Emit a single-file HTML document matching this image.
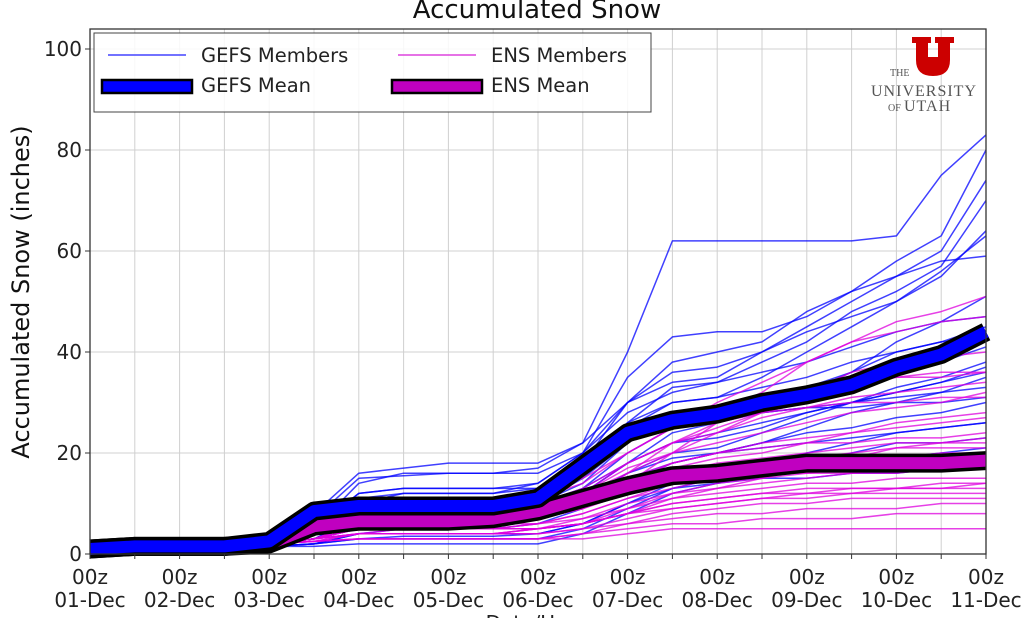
<!DOCTYPE html>
<html><head><meta charset="utf-8"><style>
html,body{margin:0;padding:0;background:#fff;}
svg{display:block;font-family:"DejaVu Sans","Liberation Sans",sans-serif;}
</style></head><body>
<svg id="chart" width="1024" height="618" viewBox="0 0 1024 618">
<text x="537" y="18" font-size="26" text-anchor="middle" fill="#111">Accumulated Snow</text>
<text transform="translate(29,292) rotate(-90)" font-size="24" text-anchor="middle" fill="#111">Accumulated Snow (inches)</text>
<g id="grid"></g>
<g id="series"></g>
<rect x="90" y="29" width="896" height="525" fill="none" stroke="#333" stroke-width="1.3"/>
<g id="axes"></g>
<g>
<rect x="94" y="33" width="557" height="79" fill="#fff" fill-opacity="0.85" stroke="#444" stroke-width="1"/>
<g><line x1="108" y1="55" x2="186" y2="55" stroke="#4444ff" stroke-width="1.5"/><text x="201" y="62" font-size="19.5" fill="#222">GEFS Members</text></g>
<g><line x1="398" y1="55" x2="476" y2="55" stroke="#dd44dd" stroke-width="1.5"/><text x="491" y="62" font-size="19.5" fill="#222">ENS Members</text></g>
<g><rect x="102" y="80" width="90" height="13" fill="#0000ff" stroke="#000" stroke-width="2.5"/><text x="201" y="92" font-size="19.5" fill="#222">GEFS Mean</text></g>
<g><rect x="392" y="80" width="90" height="13" fill="#c000c0" stroke="#000" stroke-width="2.5"/><text x="491" y="92" font-size="19.5" fill="#222">ENS Mean</text></g>
</g>
<g>
<path d="M912,37 h19 v6 h-3 v14 h10 v-14 h-3 v-6 h19 v6 h-4 v17 q0,16 -17,16 q-17,0 -17,-16 v-17 h-4 z" fill="#cc0000"/>
<text x="890" y="76" font-family="Liberation Serif,serif" font-size="10" fill="#555">THE</text>
<text x="924" y="96" font-family="Liberation Serif,serif" font-size="16" fill="#555" text-anchor="middle" letter-spacing="1">UNIVERSITY</text>
<text x="888" y="111" font-family="Liberation Serif,serif" font-size="10" fill="#555">OF</text>
<text x="904" y="111" font-family="Liberation Serif,serif" font-size="16" fill="#555" letter-spacing="1">UTAH</text>
</g>
</svg>
<script>
const dayLabels = ["01-Dec","02-Dec","03-Dec","04-Dec","05-Dec","06-Dec","07-Dec","08-Dec","09-Dec","10-Dec","11-Dec"];
const yTicks = [0,20,40,60,80,100];
// values at half-day steps (00z, 12z ...) from 00z 01-Dec to 00z 11-Dec
const gefsMean = [1,1.5,1.5,1.5,2.5,8.5,9.5,9.5,9.5,9.5,11,17.5,24,26.5,27.7,30,31.5,33.5,37,39.5,44];
const ensMean = [1,1.5,1.5,1.5,2,5.5,6.5,6.5,6.5,7,8.5,11,13.5,15.5,16,17,18,18,18,18,18.5];
const gefsMembers = [
[1,1.5,1.5,1.5,2,8,16,17,18,18,18,22,40,62,62,62,62,62,63,75,83],
[1,1.5,1.5,1.5,2,7,15,15.5,16,16,16,20,35,43,44,44,47,52,58,63,80],
[1,1.5,1.5,1.5,2,5,12,13,13,13,13,18,30,38,40,42,48,52,55,60,74],
[1,1.5,1.5,1.5,2,6,10,12,12,12,14,20,28,32,34,38,42,48,52,57,70],
[1,1.5,1.5,1.5,2,4,9,10,10,10,11,16,25,30,31,35,40,45,50,56,63],
[1,1.5,1.5,1.5,2,5,14,16,16,16,17,22,30,34,35,40,45,50,55,58,59],
[1,1.5,1.5,1.5,2,4,8,9,9,9,10,14,22,28,29,30,32,36,42,46,51],
[1,1.5,1.5,1.5,2,3,7,8,8,8,9,13,20,25,27,30,33,36,40,42,45],
[1,1.5,1.5,1.5,2,4,9,10,10,11,12,18,26,30,31,33,35,38,40,42,43],
[1,1.5,1.5,1.5,2,5,11,12,12,12,13,16,22,27,28,30,32,34,36,38,41],
[1,1.5,1.5,1.5,2,3,6,7,7,7,8,12,18,22,23,25,28,30,33,35,38],
[1,1.5,1.5,1.5,2,3,7,8,8,8,8,11,16,20,21,24,27,30,32,34,37],
[1,1.5,1.5,1.5,2,4,8,9,9,9,10,13,18,22,24,26,28,30,32,34,36],
[1,1.5,1.5,1.5,2,3,5,6,6,6,7,10,15,18,20,22,25,28,30,32,35],
[1,1.5,1.5,1.5,1.5,2,4,5,5,5,6,9,14,18,20,22,24,25,27,28,30],
[1,1.5,1.5,1.5,2,3,6,7,7,7,8,12,18,24,26,28,29,30,31,32,33],
[1,1.5,1.5,1.5,2,4,8,9,9,9,10,15,22,27,28,28,29,29,30,30,31],
[1,1.5,1.5,1.5,1.5,2,3,3.5,3.5,3.5,4,6,10,14,16,18,20,22,24,25,26],
[1,1.5,1.5,1.5,1.5,1.5,2,2,2,2,2,4,8,12,14,16,18,20,22,22,23],
[1,1.5,1.5,1.5,1.5,2,3,3,3,3,3,5,9,13,15,16,17,18,19,20,21],
[1,1.5,1.5,1.5,2,4,10,11,11,11,12,17,26,33,34,36,38,41,44,46,47],
[1,1.5,1.5,1.5,2,5,12,13,13,13,14,20,30,36,37,40,44,47,50,55,64],
[1,1.5,1.5,1.5,1.5,2,4,4,4,4,4,6,10,13,14,15,15,16,16,17,17],
[1,1.5,1.5,1.5,2,3,6,7,7,7,8,11,16,19,20,21,22,23,24,25,26]
];
const ensMembers = [
[1,1.5,1.5,1.5,2.5,6,10,11,11,11,12,15,20,25,30,34,38,42,44,46,47],
[1,1.5,1.5,1.5,2.5,5,9,10,10,10,11,14,20,25,28,32,38,42,46,48,51],
[1,1.5,1.5,1.5,2,4,8,8,8,8,9,12,18,22,25,28,30,33,35,36,36],
[1,1.5,1.5,1.5,2,4,7,8,8,8,9,12,17,20,22,24,26,28,29,30,32],
[1,1.5,1.5,1.5,2,4,7,7,7,7,8,10,14,18,20,22,23,24,25,26,27],
[1,1.5,1.5,1.5,2,3,6,6,6,6,7,9,13,16,18,19,20,21,22,22,23],
[1,1.5,1.5,1.5,2,3,6,6,6,6,7,9,12,15,16,17,18,19,19,20,20],
[1,1.5,1.5,1.5,2,3,5,6,6,6,6,8,11,13,15,16,17,18,18,18,19],
[1,1.5,1.5,1.5,2,3,5,5,5,5,6,7,10,12,13,14,15,16,16,17,17],
[1,1.5,1.5,1.5,2,3,5,5,5,5,5,7,9,11,12,13,14,14,15,15,15],
[1,1.5,1.5,1.5,2,3,4,4,4,4,5,6,8,10,11,12,12,13,13,13,14],
[1,1.5,1.5,1.5,2,3,4,4,4,4,4,5,7,9,10,11,11,12,12,12,12],
[1,1.5,1.5,1.5,2,2.5,4,4,4,4,4,5,6,8,9,10,10,11,11,11,11],
[1,1.5,1.5,1.5,2,2.5,3,3,3,3,3,4,6,7,8,8,9,9,9,10,10],
[1,1.5,1.5,1.5,2,2.5,3,3,3,3,3,4,5,6,6,7,7,7,8,8,8],
[1,1.5,1.5,1.5,2,2.5,3,3,3,3,3,3,4,5,5,5,5,5,5,5,5],
[1,1.5,1.5,1.5,2.5,5,9,9,9,9,10,13,18,22,24,27,29,31,32,33,34],
[1,1.5,1.5,1.5,2,4,8,9,9,9,10,12,16,20,24,28,32,36,38,39,40],
[1,1.5,1.5,1.5,2,4,7,7,7,7,8,11,15,18,20,21,22,22,23,23,24],
[1,1.5,1.5,1.5,2,3,6,7,7,7,7,9,12,15,17,18,19,20,21,21,21],
[1,1.5,1.5,1.5,2,3,5,5,5,5,6,8,11,14,15,16,16,16,17,17,17],
[1,1.5,1.5,1.5,2,3,5,5,5,5,5,6,8,10,11,12,13,13,13,14,14],
[1,1.5,1.5,1.5,2,3,4,5,5,5,5,6,8,9,10,11,12,12,13,13,13],
[1,1.5,1.5,1.5,2,3,6,6,6,6,7,9,14,20,26,30,32,34,35,35,36],
[1,1.5,1.5,1.5,2,3,5,6,6,6,7,9,13,17,19,20,22,24,26,27,28],
[1,1.5,1.5,1.5,2,3,4,4,4,4,5,6,9,12,14,15,16,17,18,19,19],
[1,1.5,1.5,1.5,2,3,6,6,6,6,7,10,16,22,26,28,29,30,30,31,31],
[1,1.5,1.5,1.5,2,2.5,4,4,4,4,5,6,8,11,13,15,17,19,21,22,22]
];

const NS="http://www.w3.org/2000/svg";
const X0=90,X1=986,Y0=554,YTOP=49;
function xs(d){return X0+(X1-X0)*d/10;}
function ys(v){return Y0-(Y0-YTOP)*v/100;}
function mk(tag,attrs,parent){const e=document.createElementNS(NS,tag);for(const k in attrs)e.setAttribute(k,attrs[k]);parent.appendChild(e);return e;}
const grid=document.getElementById('grid'),axes=document.getElementById('axes'),series=document.getElementById('series');
for(let h=1;h<20;h++){
  const l=mk('line',{x1:xs(h/2),x2:xs(h/2),y1:29,y2:Y0,stroke:'#d0d0d0','stroke-width':1},grid);
  
  
}
yTicks.forEach(v=>{
  if(v>0){const l=mk('line',{x1:X0,x2:X1,y1:ys(v),y2:ys(v),stroke:'#d0d0d0','stroke-width':1},grid);
  
  }
  const t=mk('line',{x1:X0-5,x2:X0,y1:ys(v),y2:ys(v),stroke:'#333','stroke-width':1},axes);
  
  
  const tx=mk('text',{x:X0-8,y:ys(v)+7,'font-size':20,'text-anchor':'end',fill:'#222'},axes);
  tx.textContent=v;
  
  
});
for(let h=0;h<=20;h++){
  const t=mk('line',{x1:xs(h/2),x2:xs(h/2),y1:Y0,y2:Y0+5,stroke:'#333','stroke-width':1},axes);
  
  
}
dayLabels.forEach((lab,i)=>{
  const a=mk('text',{x:xs(i),y:584,'font-size':20,'text-anchor':'middle',fill:'#222'},axes);
  a.textContent='00z';
  
  
  const b=mk('text',{x:xs(i),y:607,'font-size':20,'text-anchor':'middle',fill:'#222'},axes);
  b.textContent=lab;
  
  
});
const xl=mk('text',{x:537,y:630,'font-size':20,'text-anchor':'middle',fill:'#222'},axes);
xl.textContent='Date/Hour';


function pts(arr){return arr.map((v,i)=>xs(i/2).toFixed(1)+','+ys(v).toFixed(1)).join(' ');}
gefsMembers.forEach(m=>{
  const p=mk('polyline',{points:pts(m),fill:'none',stroke:'#0000ff','stroke-opacity':0.75,'stroke-width':1.5,'stroke-linejoin':'round'},series);
  
  
});
ensMembers.forEach(m=>{
  const p=mk('polyline',{points:pts(m),fill:'none',stroke:'#dd00dd','stroke-opacity':0.75,'stroke-width':1.5,'stroke-linejoin':'round'},series);
  
  
});
[[ensMean,'#c000c0','ens-mean-line'],[gefsMean,'#0000ff','gefs-mean-line']].forEach(([d,c,n])=>{
  const o=mk('polyline',{points:pts(d),fill:'none',stroke:'#000','stroke-width':19,'stroke-linejoin':'round'},series);
  
  
  const p=mk('polyline',{points:pts(d),fill:'none',stroke:c,'stroke-width':12,'stroke-linejoin':'round'},series);
  
  
});
</script>
</body></html>
